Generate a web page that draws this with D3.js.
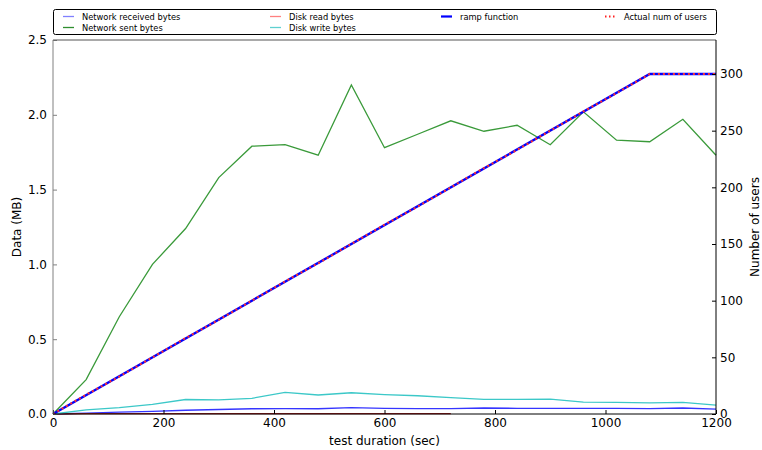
<!DOCTYPE html>
<html>
<head>
<meta charset="utf-8">
<script src="https://cdn.jsdelivr.net/npm/d3@7"></script>
<style>
  body { margin: 0; background: #fff; }
  text { font-family: "DejaVu Sans", sans-serif; }
</style>
</head>
<body>
<script>
// sample times (sec)
const time = [0, 60, 120, 180, 240, 300, 360, 420, 480, 540, 600, 660, 720, 780, 840, 900, 960, 1020, 1080, 1140, 1200]
// MB
const netReceived = [0, 0.006, 0.012, 0.018, 0.025, 0.03, 0.035, 0.036, 0.035, 0.042, 0.038, 0.036, 0.036, 0.04, 0.038, 0.037, 0.038, 0.037, 0.036, 0.04, 0.033]
const netSent = [0, 0.23, 0.65, 1.0, 1.24, 1.58, 1.79, 1.8, 1.73, 2.2, 1.78, 1.87, 1.96, 1.89, 1.93, 1.8, 2.02, 1.83, 1.82, 1.97, 1.73]
const readTime = [0, 60, 120, 180, 240, 300, 360, 420, 480, 540, 600, 660, 720]
const diskRead = [0, 0.002, 0.002, 0.002, 0.002, 0.002, 0.002, 0.002, 0.002, 0.002, 0.002, 0.002, 0.002]
const diskWrite = [0, 0.027, 0.042, 0.065, 0.097, 0.094, 0.105, 0.145, 0.127, 0.142, 0.13, 0.122, 0.109, 0.098, 0.098, 0.1, 0.08, 0.078, 0.074, 0.078, 0.06]
// users
const rampTime = [0, 1080, 1200]
const rampUsers = [0, 300, 300]
const actualUsers = [0, 17, 33, 50, 67, 83, 100, 117, 133, 150, 167, 183, 200, 217, 233, 250, 267, 283, 300, 300, 300]

const xTicks = [0, 200, 400, 600, 800, 1000, 1200]
const yLeftTicks = [0, 0.5, 1.0, 1.5, 2.0, 2.5]
const yRightTicks = [0, 50, 100, 150, 200, 250, 300]

const width = 762, height = 450
const margin = {top: 40, right: 46, bottom: 36, left: 53}
const plotW = width - margin.left - margin.right
const plotH = height - margin.top - margin.bottom

const svg = d3.select('body').append('svg')
  .attr('width', width)
  .attr('height', height)

svg.append('rect').attr('width', width).attr('height', height).attr('fill', '#fff')

const g = svg.append('g')
  .attr('transform', `translate(${margin.left},${margin.top})`)

const xScale = d3.scaleLinear().domain([0, 1200]).range([0, plotW])
const yLeft = d3.scaleLinear().domain([0, 2.5]).range([plotH, 0])
const yRight = d3.scaleLinear().domain([0, 330]).range([plotH, 0])

// series on left axis
const leftSeries = [
  {name: 'Network received bytes', xs: time, ys: netReceived, color: '#3535ff', legend: '#8080ff'},
  {name: 'Network sent bytes', xs: time, ys: netSent, color: '#3a9a3a', legend: '#2f8f2f'},
  {name: 'Disk read bytes', xs: readTime, ys: diskRead, color: '#a82020', legend: '#ff8080'},
  {name: 'Disk write bytes', xs: time, ys: diskWrite, color: '#3cc8c8', legend: '#5fd0d0'}
]

const lineL = d3.line().x((d) => xScale(d[0])).y((d) => yLeft(d[1]))
const lineR = d3.line().x((d) => xScale(d[0])).y((d) => yRight(d[1]))

g.selectAll('path.left').data(leftSeries).join('path')
  .attr('class', 'left')
  .attr('fill', 'none')
  .attr('stroke', (d) => d.color)
  .attr('stroke-width', 1.3)
  .attr('d', (d) => lineL(d.xs.map((x, i) => [x, d.ys[i]])))

// ramp + actual users on right axis
g.append('path')
  .attr('fill', 'none')
  .attr('stroke', '#0000ff')
  .attr('stroke-width', 2.4)
  .attr('d', lineR(rampTime.map((x, i) => [x, rampUsers[i]])))

g.append('path')
  .attr('fill', 'none')
  .attr('stroke', '#ff3030')
  .attr('stroke-width', 2)
  .attr('stroke-dasharray', '2,3')
  .attr('d', lineR(time.map((x, i) => [x, actualUsers[i]])))

// axes
const xAxis = d3.axisBottom(xScale).tickValues(xTicks).tickSize(-4).tickPadding(4).tickFormat(d3.format('d'))
const yAxisL = d3.axisLeft(yLeft).tickValues(yLeftTicks).tickSize(-4).tickPadding(6).tickFormat(d3.format('.1f'))
const yAxisR = d3.axisRight(yRight).tickValues(yRightTicks).tickSize(-4).tickPadding(4)

const gx = g.append('g').attr('transform', `translate(0,${plotH})`).call(xAxis)
const gyl = g.append('g').call(yAxisL)
const gyr = g.append('g').attr('transform', `translate(${plotW},0)`).call(yAxisR)

for (const ax of [gx, gyl, gyr]) {
  ax.select('.domain').remove()
  ax.selectAll('text').attr('font-size', 12).attr('fill', '#000').style('font-family', '"DejaVu Sans", sans-serif')
  ax.selectAll('line').attr('stroke', '#000')
}
gyl.selectAll('line').attr('stroke', '#808080')

// frame
g.append('line').attr('x1', 0).attr('x2', plotW).attr('y1', 0).attr('y2', 0).attr('stroke', '#555')
g.append('line').attr('x1', 0).attr('x2', plotW).attr('y1', plotH).attr('y2', plotH).attr('stroke', '#000')
g.append('line').attr('x1', plotW).attr('x2', plotW).attr('y1', 0).attr('y2', plotH).attr('stroke', '#000')
g.append('line').attr('x1', 0).attr('x2', 0).attr('y1', 0).attr('y2', plotH).attr('stroke', '#808080')

// axis titles
svg.append('text')
  .attr('x', margin.left + plotW / 2).attr('y', 445)
  .attr('text-anchor', 'middle').attr('font-size', 12)
  .text('test duration (sec)')

svg.append('text')
  .attr('transform', `translate(21,${margin.top + plotH / 2}) rotate(-90)`)
  .attr('text-anchor', 'middle').attr('font-size', 12)
  .text('Data (MB)')

svg.append('text')
  .attr('transform', `translate(759,${margin.top + plotH / 2}) rotate(-90)`)
  .attr('text-anchor', 'middle').attr('font-size', 12)
  .text('Number of users')

// legend
const legendItems = [
  {name: leftSeries[0].name, color: leftSeries[0].legend, col: 0, row: 0},
  {name: leftSeries[1].name, color: leftSeries[1].legend, col: 0, row: 1},
  {name: leftSeries[2].name, color: leftSeries[2].legend, col: 1, row: 0},
  {name: leftSeries[3].name, color: leftSeries[3].legend, col: 1, row: 1},
  {name: 'ramp function', color: '#0000ff', col: 2, row: 0, width: 2.2},
  {name: 'Actual num of users', color: '#ff2020', col: 3, row: 0, dash: '1.5,2.5', width: 2}
]
const colX = [63, 270, 441, 605]
const rowY = [16.5, 27.5]

const legend = svg.append('g')
legend.append('rect')
  .attr('x', 53.5).attr('y', 9.5).attr('width', 663).attr('height', 25)
  .attr('rx', 2).attr('fill', '#fff').attr('stroke', '#000').attr('stroke-width', 1)

const li = legend.selectAll('g.item').data(legendItems).join('g')
  .attr('class', 'item')
  .attr('transform', (d) => `translate(${colX[d.col]},${rowY[d.row]})`)
li.append('line')
  .attr('x1', 0).attr('x2', 11).attr('y1', 0).attr('y2', 0)
  .attr('stroke', (d) => d.color)
  .attr('stroke-width', (d) => d.width || 1.3)
  .attr('stroke-dasharray', (d) => d.dash || null)
li.append('text')
  .attr('x', 19).attr('y', 3)
  .attr('font-size', 8.3)
  .text((d) => d.name)
</script>
</body>
</html>
